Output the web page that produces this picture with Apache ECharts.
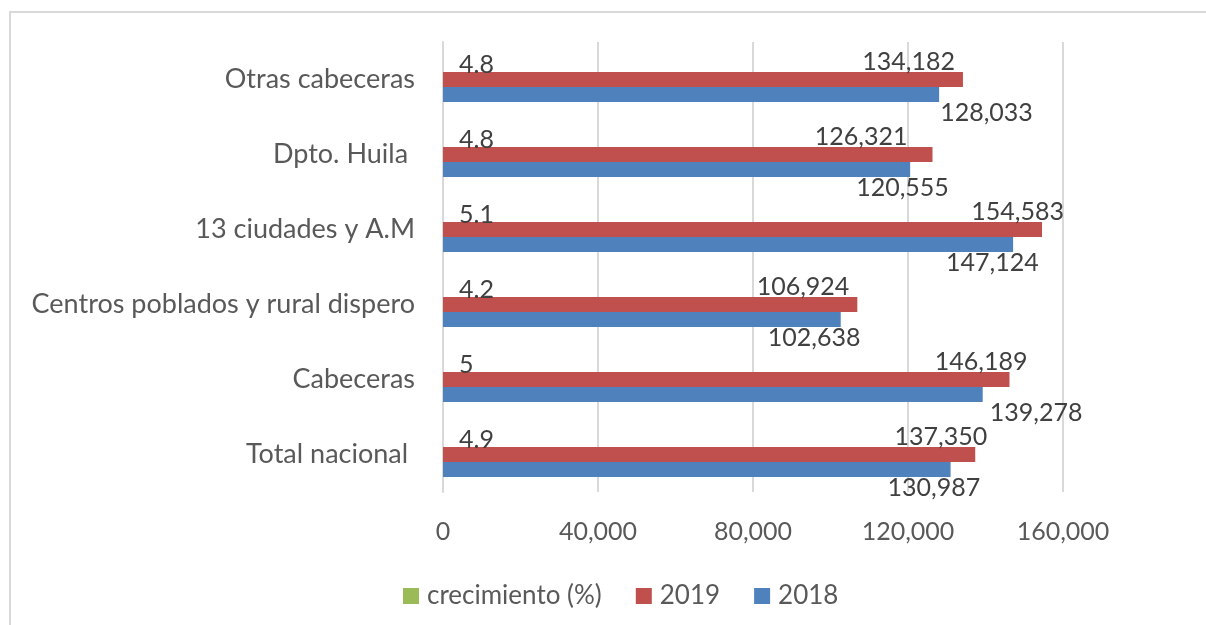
<!DOCTYPE html>
<html>
<head>
<meta charset="utf-8">
<script src="https://cdn.jsdelivr.net/npm/echarts@6/dist/echarts.min.js"></script>
<style>
  html, body { margin: 0; padding: 0; background: #fff; }
  #chart { width: 1206px; height: 625px; }
</style>
</head>
<body>
<div id="chart"></div>
<script>
// categorias (de abajo hacia arriba)
const categories = [
  "Total nacional ",
  "Cabeceras",
  "Centros poblados y rural dispero",
  "13 ciudades y A.M",
  "Dpto. Huila ",
  "Otras cabeceras"
];
const values2018 = [130987, 139278, 102638, 147124, 120555, 128033];
const values2019 = [137350, 146189, 106924, 154583, 126321, 134182];
const growth = [4.9, 5, 4.2, 5.1, 4.8, 4.8];
const xTicks = [0, 40000, 80000, 120000, 160000];

// desplazamiento horizontal de las etiquetas (px, como en el original)
const shift2019 = [12, 18, -8, 22, -25, -8];
const shift2018 = [-63, 7, -73, -67, -54, 1];

const fontFamily = "Lato, 'Noto Sans', sans-serif";
const fmt = v => Number(v).toLocaleString("en-US");

const chart = echarts.init(document.getElementById("chart"));

const barBase = {
  type: "bar",
  barWidth: 15,
  barGap: "0%",
  barCategoryGap: "40%"
};

chart.setOption({
  animation: false,
  textStyle: { fontFamily: fontFamily },
  graphic: [
    {
      type: "rect",
      shape: { x: 10, y: 12, width: 1300, height: 700 },
      style: { fill: "none", stroke: "#d9d9d9", lineWidth: 2 },
      silent: true
    }
  ],
  grid: {
    top: 42,
    left: 443,
    right: 143,
    bottom: 133
  },
  legend: {
    left: 398,
    top: 578,
    itemWidth: 16,
    itemHeight: 16,
    itemGap: 34,
    icon: "rect",
    data: ["crecimiento (%)", "2019", "2018"],
    textStyle: {
      fontFamily: fontFamily,
      fontSize: 26,
      color: "#595959",
      padding: [0, 0, 0, 3]
    }
  },
  xAxis: {
    type: "value",
    min: xTicks[0],
    max: xTicks[xTicks.length - 1],
    interval: xTicks[1] - xTicks[0],
    axisLine: { show: false },
    axisTick: { show: false },
    splitLine: { show: true, lineStyle: { color: "#d9d9d9", width: 2 } },
    axisLabel: {
      margin: 27,
      fontSize: 25,
      color: "#595959",
      fontFamily: fontFamily,
      formatter: fmt
    }
  },
  yAxis: {
    type: "category",
    data: categories,
    axisLine: { show: true, lineStyle: { color: "#d9d9d9", width: 2 } },
    axisTick: { show: false },
    axisLabel: {
      margin: 28,
      fontSize: 27,
      color: "#595959",
      fontFamily: fontFamily
    }
  },
  series: [
    Object.assign({}, barBase, {
      name: "crecimiento (%)",
      itemStyle: { color: "#9bbb59" },
      data: growth,
      label: {
        show: true,
        position: "right",
        distance: 16,
        fontSize: 25,
        color: "#404040",
        fontFamily: fontFamily,
        formatter: p => String(p.value)
      }
    }),
    Object.assign({}, barBase, {
      name: "2019",
      itemStyle: { color: "#c0504d" },
      data: values2019.map((v, i) => ({
        value: v,
        label: { offset: [shift2019[i], -18] }
      })),
      label: {
        show: true,
        position: "insideRight",
        distance: 0,
        fontSize: 25,
        color: "#404040",
        fontFamily: fontFamily,
        formatter: p => fmt(p.value)
      }
    }),
    Object.assign({}, barBase, {
      name: "2018",
      itemStyle: { color: "#4f81bd" },
      data: values2018.map((v, i) => ({
        value: v,
        label: { offset: [shift2018[i], 18] }
      })),
      label: {
        show: true,
        position: "right",
        distance: 0,
        fontSize: 25,
        color: "#404040",
        fontFamily: fontFamily,
        formatter: p => fmt(p.value)
      }
    })
  ]
});
</script>
</body>
</html>
